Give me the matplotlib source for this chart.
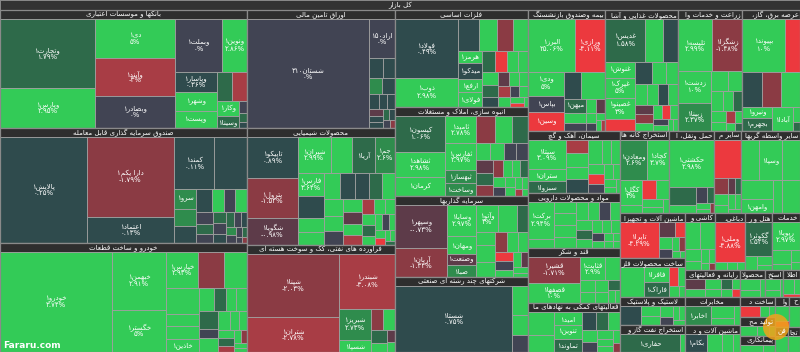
import matplotlib
matplotlib.use("Agg")
import matplotlib.pyplot as plt
from matplotlib.patches import Rectangle, Circle
from matplotlib.font_manager import FontProperties

plt.rcParams["font.family"] = "DejaVu Sans"

# ---- data: (symbol, weight, change %) ; "" = tile without label ----
banks = [("وتجارت1", 6555, 1.79), ("وپارس1", 3800, 2.95), ("دی1", 3120, 5), ("وآیند1", 3040, -3),
         ("وبصادر1", 2560, 0), ("وبملت1", 2491, 0), ("ونوین1", 1325, 2.86), ("وپاسار1", 840, 0.36),
         ("وشهر1", 800, 3), ("وپست1", 714, 2.99), ("", 450, 1.5), ("", 450, -2.6), ("وکار1", 320, 2.9),
         ("وسینا1", 276, 1.2), ("", 90, 0), ("", 70, 1.5), ("", 50, 0.5)]
funds = [("پالایش1", 9116, 0.25), ("دارا یکم1", 6960, -1.79), ("اعتماد1", 2262, 0.13), ("کمند1", 2091, 0.11),
         ("امین یکم1", 1683, 0.34), ("سرو1", 420, 2.1), ("آگاس1", 392, 2.1), ("آسامید1", 364, 0.2),
         ("کیان1", 364, 0.1), ("", 255, 3), ("", 255, 0), ("", 272, 3), ("", 200, 0), ("", 170, 1.2),
         ("", 150, 0), ("", 140, 1.3), ("", 130, 0), ("", 120, 0.5), ("", 110, 1.5), ("", 100, 0),
         ("", 90, 0.4), ("", 80, 2.2), ("", 70, 0), ("", 60, 0), ("", 50, 1.2), ("", 40, 0), ("", 30, -1)]
autos = [("خودرو1", 11100, 3.74), ("خبهمن1", 3132, 2.91), ("خگستر1", 2268, 5), ("خپارس1", 1125, 2.93),
         ("", 900, -1.6), ("", 810, 3), ("", 855, 3), ("", 414, 3), ("", 414, 3), ("خاذین1", 437, 3),
         ("ختوقا1", 330, 3), ("", 270, 1.3), ("", 250, 3), ("", 240, 3), ("", 330, 1.3), ("", 180, 0),
         ("خمهر1", 250, 3), ("خموتور1", 230, 3), ("", 160, 3), ("", 150, 3), ("", 140, 3), ("", 120, 1.2),
         ("", 100, -2.6), ("", 90, 3), ("", 80, -1.5), ("", 60, 3), ("", 50, 3)]
bonds = [("شستان310", 13407, 0), ("اراد150", 1025, 0), ("", 290, 0.4), ("", 230, 0.4), ("", 210, 2.2),
         ("", 200, 0.4), ("", 150, 0.4), ("", 130, 0.4), ("", 110, 0.3), ("", 100, -0.5), ("", 90, 0.4),
         ("", 80, 0.4), ("", 70, 1.5), ("", 60, 0.4), ("", 50, 0), ("", 40, -2)]
chemicals = [("تاپیکو1", 2050, 0.89), ("پترول1", 2000, -1.52), ("شگویا1", 1350, -0.98), ("شیران1", 1155, 2.99),
             ("شغدیر1", 770, 5), ("آریا1", 805, 1.64), ("جم1", 700, 2.6), ("فارس1", 575, 3.64),
             ("پارسان1", 575, 0.54), ("شفارس1", 350, 3), ("جم پیلن1", 325, 3), ("", 420, 3), ("", 380, 0.5),
             ("", 360, 0.5), ("", 340, 1.3), ("", 320, 3), ("قرن1", 300, 3), ("", 280, 3), ("شفن1", 260, 0),
             ("", 240, 3), ("", 220, -0.7), ("", 200, 3), ("", 190, -2.6), ("", 180, -2.6), ("", 160, 3),
             ("", 150, 3), ("", 140, 3), ("", 130, 1.3), ("", 120, 3), ("", 110, 3), ("", 100, 0),
             ("", 90, 3), ("", 80, 3), ("", 70, -4.5), ("", 60, 3), ("", 50, 3), ("", 40, 1.3)]
refinery = [("شپنا1", 5859, -2.03), ("شتران1", 3255, -2.78), ("شبندر1", 3080, -3.08), ("شبریز1", 960, 2.73),
            ("شسپا1", 384, 3), ("", 260, -2.4), ("", 240, 3), ("", 200, 1.3), ("", 150, 3), ("", 100, -0.6),
            ("", 80, 3)]
metals = [("فولاد1", 3658, 0.49), ("ذوب1", 1798, 2.98), ("فخوز1", 651, 0.3), ("کاوه1", 589, 2.99),
          ("", 496, -1.6), ("", 465, 3), ("هرمز1", 276, 3), ("میدکو1", 368, 0.4), ("ارفع1", 322, 3),
          ("فولای1", 345, 3), ("", 260, 1.5), ("", 230, -4.5), ("", 220, 3), ("", 200, 3), ("", 220, 3),
          ("", 190, 1.3), ("", 160, 0.5), ("", 150, -0.7), ("", 140, 3), ("", 130, 3), ("", 120, -2.6),
          ("", 110, 3), ("", 100, 0), ("", 90, 3), ("", 80, 2.9), ("", 60, -4), ("", 40, 3)]
housing = [("کیسون1", 1800, 1.06), ("ثشاهد1", 1250, 2.98), ("کرمان1", 950, 5), ("ثامید1", 810, 2.78),
           ("ثفارس1", 810, 2.97), ("ثبهساز1", 390, 2.2), ("وساخت1", 390, 2.3), ("", 520, -1.6),
           ("وآذر1", 440, 3), ("", 416, 1.3), ("", 260, 3), ("", 240, 3), ("", 220, 0), ("", 200, 0),
           ("ثرود1", 220, -0.6), ("ثنور1", 200, 1.2), ("ثمسا1", 180, -1.5), ("ثباغ1", 170, -2.4),
           ("", 150, 3), ("", 140, 3), ("", 130, 1.3), ("", 120, 3), ("", 110, 0), ("", 100, 3),
           ("", 90, 3), ("", 80, 3), ("", 60, 3), ("", 50, -3), ("", 40, 3)]
investments = [("وسپهر1", 2100, -0.73), ("آریان1", 1400, -1.34), ("وسایا1", 840, 2.97), ("ومهان1", 504, 5),
               ("وصنعت1", 280, -0.5), ("صبا1", 336, 2.2), ("وآتو1", 560, 3), ("", 470, 3), ("", 280, 1.3),
               ("", 230, 3), ("", 300, 3), ("", 260, 3), ("", 230, -2), ("", 200, 3), ("", 180, 3),
               ("", 160, -4.5), ("", 150, 0), ("", 130, 3), ("", 110, 3), ("", 90, -0.6), ("", 80, 3),
               ("", 60, 3)]
conglomerates = [("شستا1", 7722, 0.75), ("", 464, 3), ("", 320, 3), ("", 272, 0)]
insurance = [("البرز1", 2491, 25.06), ("ورازی1", 1590, -4.11), ("ودی1", 888, 5), ("بپاس1", 592, 0),
             ("وسین1", 703, -4.5), ("", 476, 0.5), ("", 644, 3), ("میهن1", 300, 1.5), ("", 220, 3),
             ("", 180, 0), ("", 150, 3), ("", 120, -0.6), ("", 100, 3), ("", 80, 0), ("", 60, 3),
             ("", 50, 3), ("", 40, -2.6)]
food = [("غدیس1", 1640, 1.58), ("غگل1", 738, 2.9), ("", 615, 0.5), ("غنوش1", 460, 3.01), ("غپرک1", 575, 5),
        ("غصینو1", 598, 3), ("", 340, -3.8), ("", 360, 0.5), ("غزر1", 300, 3), ("", 260, 3), ("", 240, 3),
        ("", 220, 3), ("", 200, 0.5), ("", 190, 3), ("", 170, -0.7), ("", 150, -2.4), ("", 140, 3),
        ("", 120, 3), ("", 110, -4.5), ("", 100, 3), ("", 90, 0), ("", 80, 3), ("", 60, 3), ("", 50, 3)]
farming = [("تلیسه1", 1802, 2.99), ("زشگزا1", 1590, -1.48), ("زدشت1", 1054, 10), ("زبینا1", 952, 2.37),
           ("زماهان1", 320, 3), ("", 280, 3), ("زقیام1", 250, 3), ("", 200, 3), ("", 180, 1.3),
           ("", 160, 3), ("", 130, 3), ("", 110, -2.6), ("", 90, 3), ("", 70, 3), ("", 50, 1.3)]
power = [("بپیوند1", 2279, 10), ("", 795, -4.5), ("", 700, 0.5), ("", 665, -1.6), ("", 665, 3),
         ("ونیرو1", 330, 3), ("بجهرم1", 390, 1.3), ("آبادا1", 500, 2.99), ("", 100, 3), ("", 60, 1.3)]
cement = [("سیتا1", 1140, 3.09), ("ستران1", 450, 3), ("سبزوا1", 450, 1.3), ("", 300, -2.6), ("", 300, 3),
          ("", 275, 3), ("", 300, 0.5), ("", 340, 3), ("", 220, 3), ("", 200, 3), ("", 180, 3),
          ("", 160, -4.5), ("", 150, 0), ("", 130, 3), ("", 110, 3), ("", 90, 3), ("", 70, 3), ("", 50, 3)]
pharma = [("برکت1", 1024, 2.94), ("تیپیکو1", 256, 3), ("دشیمی1", 256, 3), ("", 300, 3), ("", 280, 3),
          ("", 250, 3), ("دفارا1", 230, 3), ("", 220, 3), ("", 200, 0), ("", 190, 3), ("", 170, 3),
          ("", 150, 1.3), ("", 140, 3), ("", 130, 3), ("", 120, 3), ("", 110, 3), ("", 100, 0),
          ("", 90, 3), ("", 80, 3), ("", 70, 3), ("", 60, 3), ("", 50, 3)]
sugar = [("قشیر1", 1404, -1.71), ("قصفها1", 1092, 10), ("قثابت1", 621, 2.9), ("", 340, 3), ("", 200, 3),
         ("", 180, 3), ("", 160, 3), ("", 140, 3), ("", 120, 1.3), ("", 100, 3), ("", 60, 3)]
fin_support = [("", 621, 3), ("انرژی31", 460, 3), ("امید1", 390, 3), ("تنوین1", 420, 3), ("تماوند1", 390, 1.3),
               ("", 260, 0.5), ("", 230, 1.3), ("بورس1", 220, 3), ("", 180, 3), ("", 160, 0), ("", 140, 3),
               ("", 120, 3), ("", 100, 3), ("", 80, 3), ("", 60, -2)]
mining = [("ومعادن1", 1120, 2.6), ("کچاد1", 880, 3.7), ("کگل1", 575, 3), ("", 184, 3), ("", 270, -4.5),
          ("", 250, 3), ("", 160, 3), ("", 130, 3), ("", 90, 3)]
transport = [("حکشتی1", 2160, 2.98), ("", 500, 1.3), ("", 240, 3), ("", 180, 0), ("", 120, 1.3),
             ("", 80, 3), ("", 60, 3), ("", 40, -1.5)]
nonmetal = [("کلپارس1", 1026, -4.89), ("کفاز1", 225, -1.8), ("", 110, -0.6), ("", 90, 1.3), ("", 150, 3),
            ("", 120, 3), ("", 100, 3), ("", 80, 3), ("", 60, 3)]
other_fin = [("", 720, 3), ("وسپا1", 880, 2.96), ("", 720, 3), ("", 594, 3), ("وامهن1", 462, 2.99),
             ("ولغدر1", 264, 3), ("", 594, 3)]
machinery = [("تاپرا1", 1440, -4.29), ("", 225, -0.7), ("", 150, -4.5), ("", 150, 3), ("", 120, 0),
             ("", 100, 3), ("", 80, -1.5), ("", 60, 3), ("", 40, 3)]
metal_products = [("فجهان1", 840, 2.99), ("فافزا1", 435, 3), ("فاراک1", 435, 1.3), ("", 180, -4.5),
                  ("", 150, 3), ("", 120, 3), ("", 80, 3)]
rubber = [("پلاسک1", 437, 0.45), ("پیزد1", 200, 3), ("", 180, 3), ("", 150, 3), ("", 120, 0),
          ("", 100, 3), ("", 80, 3), ("", 60, 3)]
oil_extraction = [("حفاری1", 1100, 1.3), ("", 80, 3)]
ceramics = [("", 420, 3), ("", 420, 3), ("", 200, 3), ("", 160, 3), ("", 120, 3), ("", 90, 3),
            ("", 60, 3), ("", 40, -1.5)]
leather = [("وملی1", 1200, -4.88), ("", 100, 3), ("", 80, 3), ("", 60, 3)]
hotels = [("گکوثر1", 1008, 1.52), ("سمگا1", 200, 3), ("", 150, 3), ("", 90, 3)]
engineering = [("رپویا1", 891, 2.97), ("رانفور1", 300, 3), ("", 150, 3), ("", 120, 3), ("", 80, 3)]
computers = [("", 260, -0.7), ("", 220, 3), ("", 200, 3), ("", 180, 3), ("", 150, 1.3), ("", 120, 3),
             ("", 100, 3), ("", 80, -4.5)]
paper = [("", 300, 3), ("", 200, 3), ("", 120, 3)]
other_mining = [("", 250, 3), ("", 150, 3), ("", 80, 3)]
info = [("", 250, 3), ("", 120, 3), ("", 80, -4.5)]
telecom = [("اخابر1", 627, 2.33), ("", 350, 3), ("", 200, 3), ("", 150, 3)]
comm_devices = [("لپارس1", 350, -4.5), ("", 150, 3), ("", 100, 3)]
contracting = [("", 300, 3), ("", 150, 3)]
monetary = [("", 250, 3), ("", 100, -4.5)]
electric = [("بکام1", 500, 0.5), ("", 350, 3), ("", 250, 3), ("", 150, 3)]
computer_prod = [("مادیرا1", 300, 3), ("", 200, 3), ("", 100, 3)]
shipping = [("", 200, 3)]
technical = [("", 200, 3)]
trade = [("", 200, 3)]

sector_names = [
    "بانکها و موسسات اعتباری", "صندوق سرمایه گذاری قابل معامله", "خودرو و ساخت قطعات",
    "اوراق تامین مالی", "محصولات شیمیایی", "فراورده های نفتی، کک و سوخت هسته ای",
    "فلزات اساسی", "انبوه سازی، املاک و مستغلات", "سرمایه گذاریها", "شرکتهای چند رشته ای صنعتی",
    "بیمه وصندوق بازنشستگی بجزتامین اجتماعی", "محصولات غذایی و آشامیدنی به جز قند و شکر",
    "زراعت و خدمات وابسته", "عرضه برق، گاز، بخاروآب گرم", "سیمان، آهک و گچ", "مواد و محصولات دارویی",
    "قند و شکر", "فعالیتهای کمکی به نهادهای مالی واسط", "استخراج کانه های فلزی",
    "حمل ونقل، انبارداری و ارتباطات", "سایر محصولات کانی غیرفلزی", "سایر واسطه گریهای مالی",
    "ماشین آلات و تجهیزات", "ساخت محصولات فلزی", "لاستیک و پلاستیک",
    "استخراج نفت گاز و خدمات جنبی جز اکتشاف", "کاشی و سرامیک", "دباغی، پرداخت چرم و ساخت انواع پاپوش",
    "هتل و رستوران", "خدمات فنی و مهندسی", "رایانه و فعالیتهای وابسته به آن", "مخابرات",
    "ماشین آلات و دستگاههای برقی", "محصولات کاغذی", "استخراج سایر معادن", "اطلاعات و ارتباطات",
    "ساخت دستگاهها و وسایل ارتباطی", "تولید محصولات کامپیوتری الکترونیکی ونوری", "پیمانکاری صنعتی",
    "واسطه گریهای مالی و پولی", "حمل و نقل آبی", "فنی و مهندسی", "تجارت عمده فروشی"]
sector_sizes = [29146, 28405, 26923, 17464, 17316, 15836, 12901, 11837, 10773, 9975,
                9317, 8833, 7744, 7018, 5704, 5060, 5060, 4508, 4100, 3690, 2214, 4920,
                2925, 2535, 1820, 1755, 1710, 1710, 1539, 1596, 1485, 1540, 1485, 675, 486, 459,
                700, 675, 560, 420, 324, 324, 297]
sector_stocks = [banks, funds, autos, bonds, chemicals, refinery, metals, housing, investments,
                 conglomerates, insurance, food, farming, power, cement, pharma, sugar, fin_support,
                 mining, transport, nonmetal, other_fin, machinery, metal_products, rubber,
                 oil_extraction, ceramics, leather, hotels, engineering, computers, telecom, electric,
                 paper, other_mining, info, comm_devices, computer_prod, contracting, monetary,
                 shipping, technical, trade]
title = "کل بازار"

# ---- arabic shaping (no reshaper library available) ----
FORMS = {
    "ا": ("\uFE8D", "\uFE8E", None, None), "آ": ("\uFE81", "\uFE82", None, None),
    "أ": ("\uFE83", "\uFE84", None, None), "ب": ("\uFE8F", "\uFE90", "\uFE91", "\uFE92"),
    "پ": ("\uFB56", "\uFB57", "\uFB58", "\uFB59"), "ت": ("\uFE95", "\uFE96", "\uFE97", "\uFE98"),
    "ث": ("\uFE99", "\uFE9A", "\uFE9B", "\uFE9C"), "ج": ("\uFE9D", "\uFE9E", "\uFE9F", "\uFEA0"),
    "چ": ("\uFB7A", "\uFB7B", "\uFB7C", "\uFB7D"), "ح": ("\uFEA1", "\uFEA2", "\uFEA3", "\uFEA4"),
    "خ": ("\uFEA5", "\uFEA6", "\uFEA7", "\uFEA8"), "د": ("\uFEA9", "\uFEAA", None, None),
    "ذ": ("\uFEAB", "\uFEAC", None, None), "ر": ("\uFEAD", "\uFEAE", None, None),
    "ز": ("\uFEAF", "\uFEB0", None, None), "ژ": ("\uFB8A", "\uFB8B", None, None),
    "س": ("\uFEB1", "\uFEB2", "\uFEB3", "\uFEB4"), "ش": ("\uFEB5", "\uFEB6", "\uFEB7", "\uFEB8"),
    "ص": ("\uFEB9", "\uFEBA", "\uFEBB", "\uFEBC"), "ض": ("\uFEBD", "\uFEBE", "\uFEBF", "\uFEC0"),
    "ط": ("\uFEC1", "\uFEC2", "\uFEC3", "\uFEC4"), "ظ": ("\uFEC5", "\uFEC6", "\uFEC7", "\uFEC8"),
    "ع": ("\uFEC9", "\uFECA", "\uFECB", "\uFECC"), "غ": ("\uFECD", "\uFECE", "\uFECF", "\uFED0"),
    "ف": ("\uFED1", "\uFED2", "\uFED3", "\uFED4"), "ق": ("\uFED5", "\uFED6", "\uFED7", "\uFED8"),
    "ک": ("\uFB8E", "\uFB8F", "\uFB90", "\uFB91"), "گ": ("\uFB92", "\uFB93", "\uFB94", "\uFB95"),
    "ل": ("\uFEDD", "\uFEDE", "\uFEDF", "\uFEE0"), "م": ("\uFEE1", "\uFEE2", "\uFEE3", "\uFEE4"),
    "ن": ("\uFEE5", "\uFEE6", "\uFEE7", "\uFEE8"), "و": ("\uFEED", "\uFEEE", None, None),
    "ه": ("\uFEE9", "\uFEEA", "\uFEEB", "\uFEEC"), "ی": ("\uFBFC", "\uFBFD", "\uFBFE", "\uFBFF"),
    "ئ": ("\uFE89", "\uFE8A", "\uFE8B", "\uFE8C"),
}
LAM_ALEF = {"ا": ("\uFEFB", "\uFEFC"), "آ": ("\uFEF5", "\uFEF6"), "أ": ("\uFEF7", "\uFEF8")}
FA_DIGITS = str.maketrans("0123456789", "۰۱۲۳۴۵۶۷۸۹")


def joins_next(c):
    return c in FORMS and FORMS[c][2] is not None


def shape(text):
    s = text.replace("ي", "ی").replace("ك", "ک").replace("\u200c", "")
    out, i = [], 0
    while i < len(s):
        c = s[i]
        if c not in FORMS:
            out.append(c)
            i += 1
            continue
        jp = i > 0 and joins_next(s[i - 1])
        if c == "ل" and i + 1 < len(s) and s[i + 1] in LAM_ALEF:
            out.append(LAM_ALEF[s[i + 1]][1 if jp else 0])
            i += 2
            continue
        jn = joins_next(c) and i + 1 < len(s) and s[i + 1] in FORMS
        f = FORMS[c]
        out.append(f[3] if jp and jn else f[1] if jp else f[2] if jn else f[0])
        i += 1
    return out


def visual(text):
    runs = []
    for g in shape(text.translate(FA_DIGITS)):
        ltr = g.isdigit() or g in ".%-"
        if runs and runs[-1][0] == ltr:
            runs[-1][1].append(g)
        else:
            runs.append([ltr, [g]])
    return "".join("".join(ch) if ltr else "".join(reversed(ch)) for ltr, ch in reversed(runs))


def pct_text(v):
    s = f"{abs(v):.2f}".rstrip("0").rstrip(".").translate(FA_DIGITS) + "%"
    return "-" + s if v < 0 else s


def tile_color(v):
    if v >= 2.75:
        return "#33cb57"
    if v >= 2.0:
        return "#2f8c4d"
    if v >= 1.0:
        return "#2e6a4a"
    if v > 0:
        return "#2f4b4d"
    if v == 0:
        return "#414453"
    if v > -1:
        return "#5d3b49"
    if v > -2.5:
        return "#8b3b44"
    if v > -3.5:
        return "#a83d45"
    return "#ec393e"


# d3.treemapSquarify (golden ratio), input order kept
def squarify(values, x0, y0, x1, y1, ratio=(1 + 5 ** 0.5) / 2):
    rects = [None] * len(values)
    value = float(sum(values))
    n, i0, i1 = len(values), 0, 0
    while i0 < n:
        dx, dy = max(x1 - x0, 1e-9), max(y1 - y0, 1e-9)
        sum_v = values[i1]
        i1 += 1
        min_v = max_v = sum_v
        alpha = max(dy / dx, dx / dy) / (value * ratio)
        beta = sum_v * sum_v * alpha
        min_ratio = max(max_v / beta, beta / min_v)
        while i1 < n:
            v = values[i1]
            sum_v += v
            min_v, max_v = min(min_v, v), max(max_v, v)
            beta = sum_v * sum_v * alpha
            new_ratio = max(max_v / beta, beta / min_v)
            if new_ratio > min_ratio:
                sum_v -= v
                break
            min_ratio = new_ratio
            i1 += 1
        if dx < dy:
            ny = y0 + dy * sum_v / value
            cx = x0
            for k in range(i0, i1):
                w = dx * values[k] / sum_v
                rects[k] = (cx, y0, cx + w, ny)
                cx += w
            y0 = ny
        else:
            nx = x0 + dx * sum_v / value
            cy = y0
            for k in range(i0, i1):
                h = dy * values[k] / sum_v
                rects[k] = (x0, cy, nx, cy + h)
                cy += h
            x0 = nx
        value -= sum_v
        i0 = i1
    return rects


W, H = 800, 352
TOP, HEAD = 10, 9
LABEL_FS, HEAD_FS = 5.0, 5.0
fig = plt.figure(figsize=(8, 3.52), dpi=100)
fig.patch.set_facecolor("#8f8f8f")
ax = fig.add_axes([0, 0, 1, 1])
ax.set_xlim(0, W)
ax.set_ylim(H, 0)
ax.axis("off")
renderer = fig.canvas.get_renderer()


def text_w(s, size):
    return renderer.get_text_width_height_descent(s, FontProperties(family="DejaVu Sans", size=size), ismath=False)[0]


def fit_header(name, maxw):
    # the header reads from the right; what does not fit is cut at the left end
    vis = visual(name)
    if text_w(vis, HEAD_FS) <= maxw:
        return vis, True
    for k in range(len(name) - 1, 0, -1):
        vis = visual(name[:k].rstrip())
        if text_w(vis, HEAD_FS) <= maxw:
            return vis, False
    return "", False


def put(x, y, s, size, **kw):
    return ax.text(x, y, s, fontsize=size, color="white", va="center", **kw)


ax.add_patch(Rectangle((0, 0), W, TOP, fc="#333333", ec="#8f8f8f", lw=0.6))
put(W / 2, TOP / 2, visual(title), HEAD_FS, ha="center")

for name, (x0, y0, x1, y1), stocks in zip(sector_names, squarify(sector_sizes, 0, TOP, W, H), sector_stocks):
    w = x1 - x0
    ax.add_patch(Rectangle((x0, y0), w, HEAD, fc="#2e2e2e", ec="#8f8f8f", lw=0.6))
    vis, whole = fit_header(name, w - 3)
    if whole:
        put((x0 + x1) / 2, y0 + HEAD / 2 + 0.3, vis, HEAD_FS, ha="center")
    elif vis:
        put(x1 - 1.5, y0 + HEAD / 2 + 0.3, vis, HEAD_FS, ha="right")

    sizes = [s[1] for s in stocks]
    for (label, _, chg), (a0, b0, a1, b1) in zip(stocks, squarify(sizes, x0, y0 + HEAD, x1, y1)):
        tw, th = a1 - a0, b1 - b0
        ax.add_patch(Rectangle((a0, b0), tw, th, fc=tile_color(chg), ec="#a0a0a0", lw=0.6))
        if not label:
            continue
        vis = visual(label)
        if th < 10 or text_w(vis, LABEL_FS) > tw - 3:
            continue
        cx, cy = (a0 + a1) / 2, (b0 + b1) / 2
        pct = pct_text(chg)
        if th >= 19.5 and text_w(pct, LABEL_FS) <= tw - 3:
            put(cx, cy - 3.4, vis, LABEL_FS, ha="center")
            put(cx, cy + 3.4, pct, LABEL_FS, ha="center")
        else:
            put(cx, cy + 0.3, vis, LABEL_FS, ha="center")
    ax.add_patch(Rectangle((x0, y0), w, y1 - y0, fill=False, ec="#8a8a8a", lw=0.9))

ax.text(3, H - 6, "Fararu.com", fontsize=6.5, color="white", fontweight="bold", va="center")
ax.add_patch(Circle((776, 327), 13, fc="#f0a41c", ec="none", alpha=0.85))

fig.savefig("out.png", dpi=100, facecolor=fig.get_facecolor())
